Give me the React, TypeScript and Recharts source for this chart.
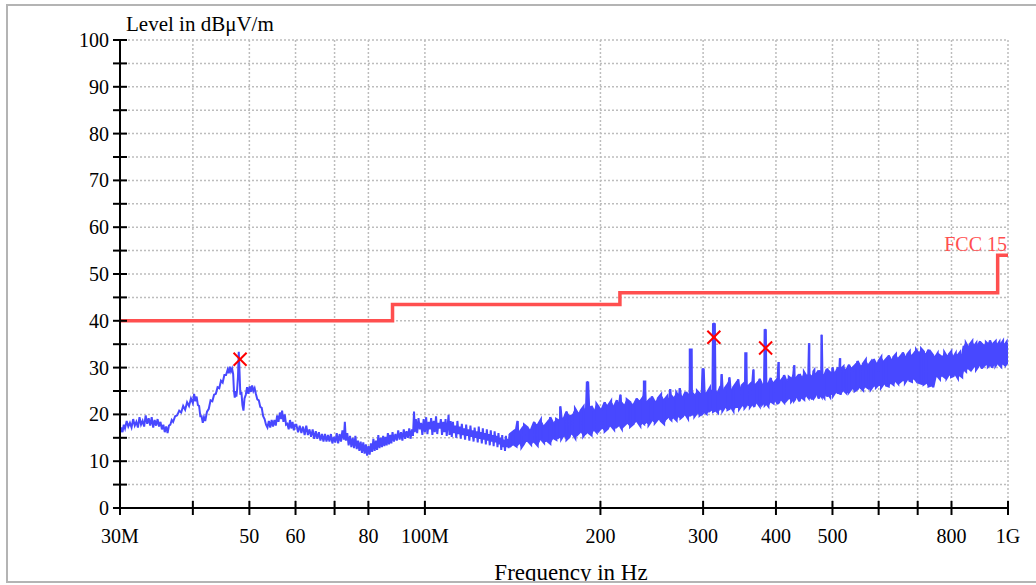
import { ComposedChart, Line, Area, Scatter, XAxis, YAxis, CartesianGrid } from 'recharts'

// axis ticks
const xTicks = [30, 40, 50, 60, 70, 80, 100, 200, 300, 400, 500, 600, 700, 800, 1000]
const xTickLabels = ['30M', '', '50', '60', '', '80', '100M', '200', '300', '400', '500', '', '', '800', '1G']
const yTicks = [0, 5, 10, 15, 20, 25, 30, 35, 40, 45, 50, 55, 60, 65, 70, 75, 80, 85, 90, 95, 100]

// FCC 15 limit (MHz, dBuV/m)
const limitFreq = [30, 88, 216, 960, 1000]
const limitLevel = [40, 43.5, 46, 54, 54]

// peak markers
const markerFreq = [48.2, 313, 384]
const markerLevel = [31.8, 36.5, 34.2]

// measured trace, 30-60 MHz: [MHz, level]
const traceA = [
  [30.0, 16.0], [30.15, 17.2], [30.3, 16.2], [30.45, 17.8], [30.6, 17.0], [30.8, 18.6], [31.0, 17.4], [31.2, 18.2],
  [31.4, 17.2], [31.6, 19.0], [31.8, 17.6], [32.0, 18.4], [32.2, 17.2], [32.4, 19.4], [32.6, 17.8], [32.8, 18.6],
  [33.0, 17.4], [33.2, 19.8], [33.4, 18.0], [33.6, 19.2], [33.8, 17.6], [34.0, 19.4], [34.2, 17.2], [34.4, 18.8],
  [34.6, 17.6], [34.8, 19.0], [35.0, 17.4], [35.2, 18.4], [35.4, 16.8], [35.6, 17.8], [35.8, 16.2], [36.0, 17.4],
  [36.2, 16.0], [36.4, 17.6], [36.6, 17.8], [36.8, 18.8], [37.0, 18.4], [37.3, 19.6], [37.6, 19.8], [37.9, 20.8],
  [38.2, 20.4], [38.5, 21.8], [38.8, 21.0], [39.1, 22.6], [39.4, 21.8], [39.7, 23.4], [40.0, 22.4], [40.2, 24.4],
  [40.4, 22.8], [40.6, 23.8], [40.8, 22.0], [41.0, 21.8], [41.2, 19.6], [41.4, 19.6], [41.6, 18.2], [41.8, 19.4],
  [42.0, 18.6], [42.3, 20.6], [42.6, 21.2], [42.9, 23.0], [43.2, 22.8], [43.5, 24.2], [43.8, 24.4], [44.1, 25.8],
  [44.4, 25.6], [44.7, 27.2], [45.0, 26.8], [45.3, 28.4], [45.6, 28.4], [45.9, 29.6], [46.1, 28.8], [46.3, 30.2],
  [46.5, 29.2], [46.7, 29.8], [46.9, 28.6], [47.05, 25.0], [47.2, 23.6], [47.35, 25.0], [47.5, 23.8], [47.65, 25.4],
  [47.8, 28.0], [47.95, 33.4], [48.1, 29.0], [48.25, 24.2], [48.45, 24.8], [48.65, 22.0], [48.85, 20.8], [49.05, 23.4],
  [49.3, 24.2], [49.55, 25.8], [49.8, 24.4], [50.05, 26.0], [50.3, 24.8], [50.55, 26.2], [50.8, 25.0], [51.05, 25.6],
  [51.3, 24.4], [51.6, 23.2], [51.9, 23.0], [52.2, 21.6], [52.5, 21.4], [52.8, 19.6], [53.1, 19.0], [53.4, 17.8],
  [53.7, 17.2], [54.0, 18.6], [54.3, 17.2], [54.6, 18.8], [54.9, 17.4], [55.2, 18.8], [55.5, 17.6], [55.8, 19.8],
  [56.1, 18.4], [56.4, 20.4], [56.7, 19.0], [56.9, 20.8], [57.2, 18.4], [57.5, 20.0], [57.8, 17.8], [58.1, 18.0],
  [58.4, 16.8], [58.7, 18.8], [59.0, 17.0], [59.3, 18.4], [59.6, 16.6], [59.9, 17.8],
]

// measured trace, 60-140 MHz
const traceB = [
  [60.2, 17.8], [60.6, 16.2], [61.0, 17.6], [61.4, 16.0], [61.8, 17.4], [62.2, 15.6], [62.6, 17.6], [63.0, 15.6],
  [63.4, 16.8], [63.8, 15.2], [64.2, 16.8], [64.6, 14.8], [65.0, 16.4], [65.4, 14.8], [65.8, 16.2], [66.2, 14.4],
  [66.6, 15.8], [67.0, 14.2], [67.4, 15.8], [67.8, 14.2], [68.2, 15.6], [68.6, 14.2], [69.0, 15.8], [69.4, 13.8],
  [69.8, 15.2], [70.2, 14.0], [70.6, 16.0], [71.0, 13.8], [71.4, 15.8], [71.8, 14.2], [72.2, 16.6], [72.6, 14.6],
  [72.9, 18.4], [73.2, 14.4], [73.6, 16.0], [74.0, 13.4], [74.4, 15.4], [74.8, 13.0], [75.2, 15.0], [75.6, 12.8],
  [76.0, 15.4], [76.4, 12.6], [76.8, 14.4], [77.2, 12.2], [77.6, 14.2], [78.0, 11.8], [78.4, 14.0], [78.8, 11.6],
  [79.2, 13.6], [79.6, 11.2], [80.0, 13.2], [80.4, 11.4], [80.8, 13.8], [81.2, 12.0], [81.6, 14.8], [82.0, 12.2],
  [82.4, 14.4], [82.8, 12.4], [83.2, 15.6], [83.6, 12.8], [84.0, 15.0], [84.4, 13.0], [84.8, 15.4], [85.2, 13.2],
  [85.6, 15.2], [86.0, 13.4], [86.4, 16.0], [86.8, 13.6], [87.2, 15.6], [87.6, 13.8], [88.0, 16.2], [88.5, 14.2],
  [89.0, 15.8], [89.5, 14.4], [90.0, 16.6], [90.5, 14.6], [91.0, 16.2], [91.5, 14.4], [92.0, 16.8], [92.5, 14.8],
  [93.0, 16.4], [93.5, 15.0], [94.0, 17.0], [94.5, 14.8], [95.0, 16.8], [95.4, 15.4], [95.8, 20.6], [96.1, 16.2],
  [96.5, 19.0], [97.0, 16.0], [97.5, 19.2], [98.0, 16.8], [98.5, 18.2], [99.0, 15.6], [99.5, 19.0], [100.0, 16.2],
  [100.5, 19.4], [101.0, 15.8], [101.5, 18.4], [102.0, 16.8], [102.5, 19.2], [103.0, 15.6], [103.5, 18.6], [104.0, 16.2],
  [104.5, 19.6], [105.0, 15.8], [105.5, 18.2], [106.0, 17.0], [106.5, 19.0], [107.0, 15.6], [107.5, 18.4], [108.0, 16.2],
  [108.5, 19.0], [109.0, 15.4], [109.5, 18.2], [109.8, 19.9], [110.2, 15.6], [110.7, 18.6], [111.2, 15.2], [111.7, 18.4],
  [112.2, 16.0], [112.7, 17.6], [113.2, 15.0], [113.7, 18.6], [114.2, 15.8], [114.7, 17.4], [115.2, 14.8], [115.7, 18.0],
  [116.2, 15.6], [116.7, 17.0], [117.2, 14.6], [117.7, 17.8], [118.2, 15.4], [118.7, 16.8], [119.2, 14.4], [119.7, 17.6],
  [120.2, 15.2], [120.7, 16.6], [121.2, 14.2], [121.7, 17.2], [122.2, 15.0], [122.7, 16.4], [123.2, 14.0], [123.7, 17.4],
  [124.2, 14.8], [124.7, 16.2], [125.2, 13.8], [125.7, 17.0], [126.2, 14.6], [126.7, 16.0], [127.2, 13.6], [127.7, 16.8],
  [128.2, 14.4], [128.7, 15.8], [129.2, 13.4], [129.7, 16.6], [130.2, 14.2], [130.7, 15.6], [131.2, 13.2], [131.7, 16.4],
  [132.2, 14.0], [132.7, 15.4], [133.2, 13.0], [133.7, 16.0], [134.2, 13.6], [134.7, 15.0], [135.2, 12.4], [135.7, 15.6],
  [136.2, 13.0], [136.7, 14.6], [137.2, 12.2], [137.7, 15.4], [138.2, 13.0], [138.7, 14.8], [139.2, 12.8], [139.7, 15.8],
  [140.0, 13.2],
]

// noise band 140-300 MHz: [MHz, low, high]
const bandC = [
  [140, 13.0, 15.8], [142, 13.6, 16.4], [143.5, 13.2, 17.0], [144.2, 13.6, 18.6], [145, 14.0, 16.0], [146.5, 13.0, 16.8],
  [148, 13.8, 17.8], [150, 14.4, 17.2], [152, 13.6, 16.6], [154, 14.2, 18.4], [156, 13.4, 17.6], [158, 14.8, 18.8],
  [160, 14.0, 17.4], [162, 14.4, 18.2], [164, 13.8, 19.4], [166, 15.0, 18.0], [168, 14.6, 19.0], [170, 15.2, 18.6],
  [170.7, 15.4, 21.7], [171.4, 14.8, 19.4], [173, 15.6, 19.0], [175, 14.6, 20.6], [177, 15.2, 19.6], [179, 16.0, 19.8],
  [181, 15.0, 21.2], [183, 15.8, 20.2], [185, 16.4, 20.8], [187, 15.4, 21.6], [189, 16.2, 20.4], [189.7, 16.2, 27.0],
  [190.4, 16.4, 27.0], [191.2, 16.0, 21.0], [193, 15.6, 21.8], [195, 16.8, 20.6], [197, 16.2, 22.2], [199, 16.6, 21.4],
  [201, 17.2, 21.0], [203.5, 16.4, 22.6], [206, 17.0, 21.8], [208.5, 17.6, 22.8], [211, 16.8, 21.6], [213.5, 17.4, 23.0],
  [215.5, 17.8, 22.2], [216.5, 17.4, 24.2], [217.5, 17.0, 22.4], [219.5, 17.6, 21.8], [222, 18.2, 23.2], [225, 17.4, 22.6],
  [228, 18.0, 22.0], [231, 18.6, 23.4], [234, 17.6, 22.8], [236.5, 18.2, 23.6], [237.6, 18.0, 27.0], [238.6, 18.2, 27.0],
  [239.6, 18.4, 22.4], [242, 17.8, 23.0], [245, 18.8, 23.8], [248, 18.2, 22.6], [251, 19.0, 23.4], [254, 18.6, 24.2],
  [257, 18.0, 23.0], [260, 19.2, 23.8], [262.5, 19.6, 23.2], [263.5, 19.0, 25.4], [264.5, 18.8, 24.0], [267, 19.4, 23.4],
  [270, 18.8, 24.6], [272.5, 19.8, 23.8], [273.5, 19.4, 25.6], [274.5, 19.2, 24.2], [277, 19.6, 23.6], [280, 20.0, 24.8],
  [282.5, 19.2, 24.2], [284, 19.8, 23.8], [284.8, 19.8, 33.8], [286.6, 19.8, 33.8], [287.4, 20.2, 24.6], [290, 19.6, 24.0],
  [293, 20.4, 25.0], [296, 19.8, 24.4], [298.5, 20.2, 23.8], [299.5, 20.2, 29.8], [300.5, 20.4, 29.8], [301.5, 20.6, 24.8],
]

// noise band 300-1000 MHz
const bandD = [
  [304, 20.2, 24.4], [308, 20.8, 25.6], [311.5, 21.2, 24.8], [312.2, 20.6, 39.5], [314.0, 20.8, 39.5], [314.8, 21.0, 25.2],
  [318, 20.4, 24.6], [321.5, 21.4, 26.0], [322.7, 21.0, 28.6], [323.9, 20.8, 25.0], [327, 21.6, 25.6], [330.5, 21.0, 26.4],
  [332.8, 21.2, 27.9], [334.2, 21.8, 25.2], [338, 20.8, 25.8], [341.5, 21.6, 26.6], [344.5, 21.6, 27.5], [346, 21.2, 25.4],
  [349.5, 22.0, 26.2], [353.5, 21.4, 26.8], [354.6, 21.6, 33.0], [355.8, 21.8, 33.0], [357, 22.2, 25.8], [361, 21.6, 26.4],
  [364.8, 22.4, 27.2], [366, 22.0, 29.6], [367.2, 21.6, 26.0], [371, 22.6, 26.6], [375, 21.8, 27.6], [379, 22.2, 26.2],
  [382, 22.8, 26.8], [382.8, 22.0, 38.2], [384.0, 22.2, 38.2], [384.8, 22.4, 27.0], [388, 21.8, 26.4], [392, 22.8, 27.8],
  [396, 22.4, 26.6], [400, 23.0, 27.2], [403, 22.2, 28.0], [404.2, 22.4, 31.2], [405.4, 22.8, 26.8], [409, 23.2, 27.4],
  [413, 22.6, 28.4], [417, 23.0, 27.0], [421, 23.6, 28.0], [425, 22.8, 27.6], [428.8, 23.4, 28.8], [430, 23.0, 30.5],
  [431.2, 23.2, 27.4], [435, 23.8, 28.0], [439, 22.8, 28.6], [443, 23.6, 27.6], [447, 23.2, 29.0], [451, 24.2, 28.2],
  [454.8, 23.6, 28.6], [456, 23.4, 35.2], [457.2, 23.8, 28.4], [461, 23.2, 28.0], [464, 24.2, 29.2], [465.2, 23.6, 29.4],
  [466.4, 23.8, 28.2], [470, 24.4, 28.8], [474, 23.4, 29.4], [477.8, 24.0, 28.4], [479, 23.8, 37.0], [480.2, 24.2, 28.8],
  [484, 23.6, 28.2], [488.8, 24.6, 29.6], [490, 23.8, 29.8], [491.2, 24.4, 28.6], [495, 23.8, 29.0], [498.8, 24.8, 28.6],
  [500, 24.2, 30.0], [501.2, 24.0, 29.4], [506, 24.8, 28.8], [511, 24.4, 30.0], [514, 25.0, 29.2], [515.2, 24.8, 32.0],
  [516.4, 24.2, 29.6], [522, 25.2, 30.2], [528, 24.6, 29.4], [534, 24.8, 30.6], [540, 25.6, 29.8], [546, 25.0, 30.4],
  [552, 25.4, 31.4], [558, 25.8, 30.2], [564, 25.2, 30.8], [570, 26.0, 31.6], [576, 25.6, 30.4], [582, 25.4, 31.2],
  [588, 26.2, 31.8], [594, 25.8, 30.8], [600, 26.4, 31.4], [606, 25.8, 32.2], [612, 26.6, 31.2], [618, 26.2, 31.8],
  [624, 26.0, 32.6], [630, 26.8, 31.6], [636, 26.4, 32.2], [642, 27.2, 32.8], [648, 26.6, 31.8], [654, 27.0, 32.4],
  [660, 27.4, 33.2], [666, 26.8, 32.2], [672, 27.6, 32.8], [678, 27.2, 33.4], [684, 27.0, 32.4], [690, 27.8, 33.0],
  [696, 27.2, 33.8], [703, 26.8, 33.0], [710, 26.6, 34.0], [717, 26.4, 33.4], [724, 26.8, 32.8], [731, 26.0, 33.8],
  [738, 26.2, 33.2], [744, 25.8, 32.6], [750, 27.8, 32.2], [757, 28.2, 33.0], [764, 27.6, 32.6], [771, 28.4, 32.2],
  [778, 28.0, 33.2], [785, 27.8, 32.4], [792, 28.6, 32.8], [799, 28.0, 33.4], [806, 28.2, 32.2], [813, 28.6, 33.0],
  [820, 27.8, 32.6], [827, 28.4, 33.2], [834, 28.0, 32.4], [840, 29.6, 34.6], [847, 29.2, 35.2], [854, 30.0, 34.4],
  [861, 29.6, 35.0], [868, 29.8, 35.6], [875, 30.4, 34.6], [882, 29.6, 35.2], [889, 30.2, 34.8], [896, 30.6, 35.6],
  [903, 29.8, 35.0], [910, 30.4, 34.6], [917, 30.8, 35.4], [924, 30.2, 35.0], [931, 30.6, 35.8], [938, 30.0, 34.8],
  [945, 30.8, 35.2], [952, 30.4, 35.6], [959, 31.0, 34.8], [966, 30.6, 35.4], [973, 30.2, 35.0], [980, 31.0, 35.6],
  [987, 30.6, 34.8], [994, 30.8, 35.4], [1000, 31.2, 35.0],
]

const BLUE = '#4848ff'
const RED = '#ff4f4f'
const FONT = "'Liberation Serif', 'Times New Roman', serif"

const traceData = [...traceA, ...traceB].map(([f, v]) => ({ f, v }))
const bandRows = [...bandC, ...bandD]
const bandData = bandRows.map(([f, lo, hi]) => ({ f, v: [lo, hi] }))
// the receiver sweep drawn as vertical strokes between the typed low/high readings
const bandSweep = bandRows.flatMap(([f, lo, hi], i) =>
  i % 2 === 0 ? [{ f, v: lo }, { f, v: hi }] : [{ f, v: hi }, { f, v: lo }]
)
const limitData = limitFreq.map((f, i) => ({ f, v: limitLevel[i] }))
const markerData = markerFreq.map((f, i) => ({ f, v: markerLevel[i] }))

function XTick(props: any) {
  const { x, y, payload } = props
  const i = xTicks.indexOf(payload.value)
  const label = i >= 0 ? xTickLabels[i] : ''
  return (
    <g>
      <line x1={x} x2={x} y1={y - 7} y2={y + 7} stroke="#000" strokeWidth={2} />
      {label ? (
        <text x={x} y={y + 35} textAnchor="middle" fontSize={20} fontFamily={FONT} fill="#000">{label}</text>
      ) : null}
    </g>
  )
}

function YTick(props: any) {
  const { x, y, payload } = props
  const v = payload.value
  return (
    <g>
      <line x1={x - 7} x2={x + 7} y1={y} y2={y} stroke="#000" strokeWidth={2} />
      {v % 10 === 0 ? (
        <text x={x - 11} y={y + 7} textAnchor="end" fontSize={20} fontFamily={FONT} fill="#000">{v}</text>
      ) : null}
    </g>
  )
}

function Cross(props: any) {
  const { cx, cy } = props
  const s = 6.5
  return (
    <g>
      <line x1={cx - s} y1={cy - s} x2={cx + s} y2={cy + s} stroke="#ff0000" strokeWidth={2} />
      <line x1={cx - s} y1={cy + s} x2={cx + s} y2={cy - s} stroke="#ff0000" strokeWidth={2} />
    </g>
  )
}

export default function App() {
  return (
    <div style={{ position: 'absolute', left: 0, top: 0, width: 1036, height: 585, background: '#fff' }}>
      <ComposedChart width={1036} height={585} margin={{ top: 40, right: 28, bottom: 0, left: 0 }}>
        <CartesianGrid stroke="#bdbdbd" strokeDasharray="2 2" strokeWidth={1.5} />
        <XAxis
          dataKey="f"
          type="number"
          scale="log"
          domain={[30, 1000]}
          allowDataOverflow
          ticks={xTicks}
          interval={0}
          height={77}
          tickSize={0}
          tickMargin={0}
          tickLine={false}
          axisLine={{ stroke: '#000', strokeWidth: 2 }}
          tick={(p: any) => <XTick {...p} />}
        />
        <YAxis
          type="number"
          domain={[0, 100]}
          allowDataOverflow
          ticks={yTicks}
          interval={0}
          width={120}
          tickSize={0}
          tickMargin={0}
          tickLine={false}
          axisLine={{ stroke: '#000', strokeWidth: 2 }}
          tick={(p: any) => <YTick {...p} />}
        />
        <Line data={traceData} dataKey="v" type="linear" stroke={BLUE} strokeWidth={2} dot={false} activeDot={false} isAnimationActive={false} />
        <Area data={bandData} dataKey="v" type="linear" stroke={BLUE} strokeWidth={1} fill={BLUE} fillOpacity={1} dot={false} activeDot={false} isAnimationActive={false} />
        <Line data={bandSweep} dataKey="v" type="linear" stroke={BLUE} strokeWidth={2.4} dot={false} activeDot={false} isAnimationActive={false} />
        <Line data={limitData} dataKey="v" type="stepAfter" stroke={RED} strokeWidth={3.5} dot={false} activeDot={false} isAnimationActive={false} />
        <Scatter data={markerData} dataKey="v" shape={(p: any) => <Cross {...p} />} isAnimationActive={false} />
      </ComposedChart>
      <svg width={1036} height={585} style={{ position: 'absolute', left: 0, top: 0, pointerEvents: 'none' }}>
        <defs>
          <clipPath id="frame">
            <rect x={8} y={6} width={1028} height={575} />
          </clipPath>
        </defs>
        <rect x={7} y={5} width={1040} height={577} fill="none" stroke="#b4b4b4" strokeWidth={2} />
        <text x={126} y={31} fontSize={21} fontFamily={FONT} fill="#000">Level in dBμV/m</text>
        <text x={1007} y={251} textAnchor="end" fontSize={20} fontFamily={FONT} fill={RED}>FCC 15</text>
        <g clipPath="url(#frame)">
          <text x={571} y={580} textAnchor="middle" fontSize={23} fontFamily={FONT} fill="#000">Frequency in Hz</text>
        </g>
      </svg>
    </div>
  )
}
